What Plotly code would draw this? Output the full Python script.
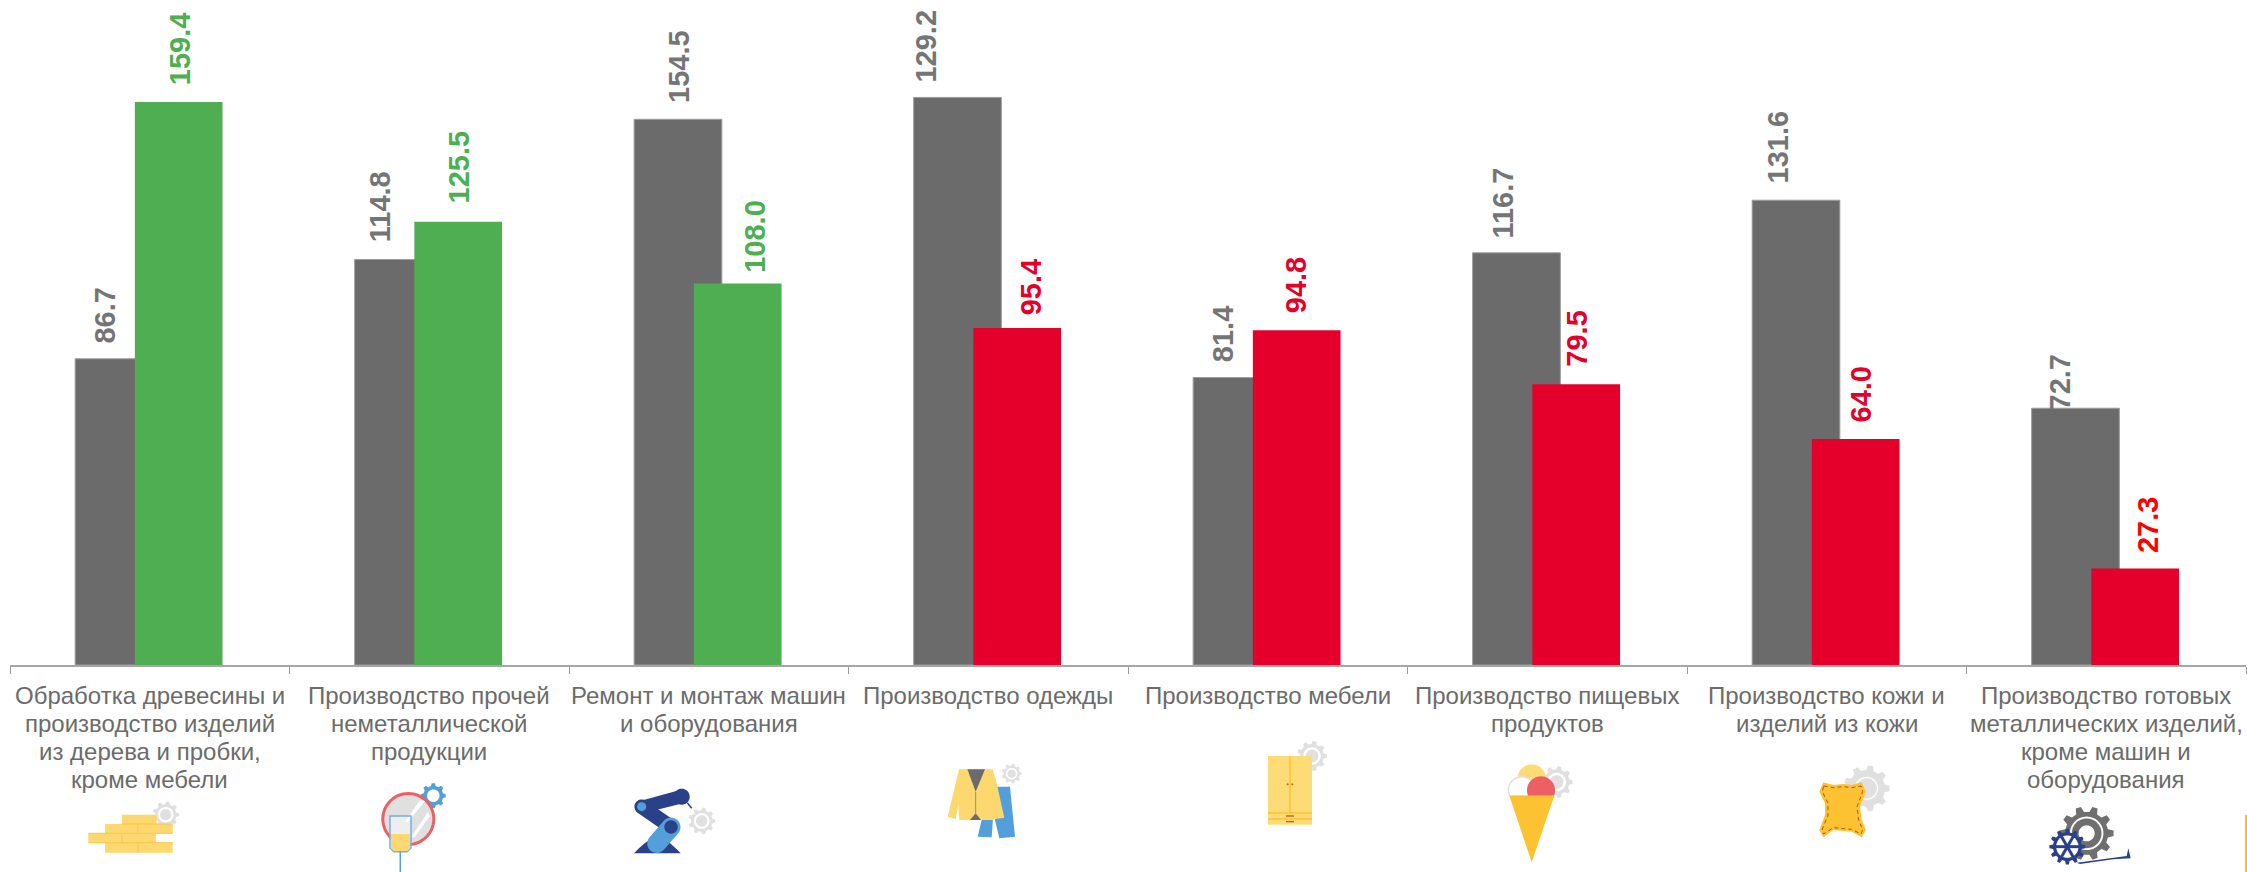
import math
import plotly.graph_objects as go

# ---------- data ----------
categories = [
    "Обработка древесины и<br>производство изделий<br>из дерева и пробки,<br>кроме мебели",
    "Производство прочей<br>неметаллической<br>продукции",
    "Ремонт и монтаж машин<br>и оборудования",
    "Производство одежды",
    "Производство мебели",
    "Производство пищевых<br>продуктов",
    "Производство кожи и<br>изделий из кожи",
    "Производство готовых<br>металлических изделий,<br>кроме машин и<br>оборудования",
]
prior_bars = [86.7, 114.8, 154.5, 160.7, 81.4, 116.7, 131.6, 72.7]
prior_labels = ["86.7", "114.8", "154.5", "129.2", "81.4", "116.7", "131.6", "72.7"]
current_bars = [159.4, 125.5, 108.0, 95.4, 94.8, 79.5, 64.0, 27.3]
current_labels = ["159.4", "125.5", "108.0", "95.4", "94.8", "79.5", "64.0", "27.3"]
current_colors = ["#4fae52"] * 3 + ["#e4002b"] * 5
current_label_colors = ["#4caf50"] * 3 + ["#e4002b"] * 4 + ["#ff0000"]

# label nudges, px from the category centre / above the bar top
prior_dx = [-45, -49, -30, -62, -44.5, -44, -49, -46]
prior_gap = [16, 18, 17.6, 15.6, 16.6, 15, 18, -1]
current_dx = [30, 30, 46, 43, 29, 29.5, 34.5, 42.5]
current_gap = [18, 19, 12, 14, 17.7, 18.3, 17.7, 16.3]

W, H = 2247, 872
AX_L, AX_R, BASE_Y = 10, 2246, 665
PX_PER_UNIT = 3.532
CAT_W = (AX_R - AX_L) / 8
GRAY, TXT_GRAY = "#6b6b6b", "#757575"
FONT = "Liberation Sans"

fig = go.Figure()
fig.add_bar(x=categories, y=prior_bars, width=87.7 / CAT_W, offset=-74.6 / CAT_W,
            marker=dict(color=GRAY, line=dict(color="#9c9c9c", width=1)), showlegend=False)
fig.add_bar(x=categories, y=current_bars, width=87.7 / CAT_W, offset=-14.9 / CAT_W,
            marker=dict(color=current_colors, line=dict(width=0)), showlegend=False)

annotations = []
def value_label(i, val, text, dx, gap, color):
    annotations.append(dict(x=i, y=val, xref="x", yref="y", text=text, showarrow=False, textangle=-90,
                            xanchor="center", yanchor="bottom", xshift=dx, yshift=gap - 3,
                            font=dict(family=FONT, size=29, color=color, weight=700)))

for i in range(8):
    value_label(i, prior_bars[i], prior_labels[i], prior_dx[i], prior_gap[i], TXT_GRAY)
    value_label(i, current_bars[i], current_labels[i], current_dx[i], current_gap[i], current_label_colors[i])

for i, cat in enumerate(categories):
    for j, line in enumerate(cat.split("<br>")):
        annotations.append(dict(x=i, y=1 - (695 + 28 * j) / H, xref="x", yref="paper", text=line,
                                showarrow=False, xanchor="center", yanchor="middle",
                                font=dict(family=FONT, size=24, color=GRAY)))

# ---------- decorative icons, pixel space ----------
shapes = []
def P(x, y):
    return f"{x / W:.6f},{1 - y / H:.6f}"
def poly(pts, fill, line=None, lw=0, closed=True, dash=None):
    d = "M" + " L".join(P(x, y) for x, y in pts) + (" Z" if closed else "")
    s = dict(type="path", xref="paper", yref="paper", path=d, layer="above",
             fillcolor=fill if closed else "rgba(0,0,0,0)",
             line=dict(width=lw, color=line or "rgba(0,0,0,0)", **({"dash": dash} if dash else {})))
    shapes.append(s)
def circ(cx, cy, r, fill, line=None, lw=0, clip=None):
    pts = [(cx + r * math.cos(a * math.pi / 30), cy + r * math.sin(a * math.pi / 30)) for a in range(60)]
    if clip is not None:
        pts = [(x, min(y, clip)) for x, y in pts]
    poly(pts, fill, line, lw)
def capsule(x0, y0, x1, y1, r, fill):
    a = math.atan2(y1 - y0, x1 - x0)
    pts = []
    for k in range(13):
        t = a + math.pi / 2 + k * math.pi / 12
        pts.append((x0 + r * math.cos(t), y0 + r * math.sin(t)))
    for k in range(13):
        t = a - math.pi / 2 + k * math.pi / 12
        pts.append((x1 + r * math.cos(t), y1 + r * math.sin(t)))
    poly(pts, fill)
def rect(x0, y0, x1, y1, fill):
    poly([(x0, y0), (x1, y0), (x1, y1), (x0, y1)], fill)
def gear(cx, cy, R, color="#e0e0e0", n=9, ring=0.58, hub=0.42, ring_col="#ffffff", hub_col=None):
    pts = []
    for k in range(n):
        base = 2 * math.pi * k / n
        step = 2 * math.pi / n
        for f, rr in ((-0.30, 0.8), (-0.16, 1.0), (0.16, 1.0), (0.30, 0.8)):
            pts.append((cx + R * rr * math.cos(base + f * step), cy + R * rr * math.sin(base + f * step)))
    poly(pts, color)
    circ(cx, cy, R * ring, ring_col)
    if hub > 0:
        circ(cx, cy, R * hub, hub_col or color)

YEL, YEL2, BLUE, NAVY, CORAL = "#fdd86f", "#fdc231", "#529fd9", "#2a4189", "#ec5f63"

# 1 wood
gear(165.7, 814.7, 13.3)
rect(122, 814.7, 156.7, 824, YEL); rect(105, 824, 172.7, 833.3, YEL)
rect(88.3, 833.3, 156, 842.7, YEL); rect(105, 842.7, 172.7, 852.7, YEL)
for y, a, b in ((824, 122, 172.7), (833.3, 88.3, 172.7), (842.7, 88.3, 172.7)):
    poly([(a, y), (b, y)], "", "#fbc64a", 1, closed=False)
for x, a, b in ((138, 824, 833.3), (122, 833.3, 842.7), (138, 842.7, 852.7)):
    poly([(x, a), (x, b)], "", "#fbc64a", 1, closed=False)

# 2 mirror and glass
gear(433.3, 795.7, 12.5, BLUE, n=8, ring=0.5, hub=0.0)
circ(408.3, 819, 25.5, "#e0e0e0", CORAL, 3)
poly([(420, 800), (405, 822), (408, 822), (425, 801)], "#ffffff")
poly([(428, 812), (412, 836), (414, 838), (430, 816)], "#ffffff")
poly([(390, 816), (411, 816), (411, 848), (407, 851.7), (394, 851.7), (390, 848)], "rgba(255,255,255,0.45)", "#74b0e0", 1.5)
poly([(391, 834), (410, 834), (410, 848), (407, 851), (394, 851), (391, 848)], YEL)
poly([(400.3, 851.7), (400.3, 872)], "", BLUE, 1.5, closed=False)

# 3 robot
gear(701.7, 821, 13.5)
poly([(687.3, 802.7), (691.7, 808.3)], "", NAVY, 1.5, closed=False)
poly([(640, 801), (680, 790), (684, 803), (648, 812)], NAVY)
circ(681.7, 796.7, 8, NAVY)
pts = [(634 + 46.7 * k / 24, 853.3 - 15.3 * math.sin(math.pi * k / 24)) for k in range(25)]
poly(pts, NAVY)
capsule(641.7, 806.7, 671, 827, 7.3, NAVY)
circ(641.7, 806.7, 4.5, BLUE)
capsule(656.7, 843.5, 671, 827, 9.5, BLUE)
circ(671, 827, 6.7, NAVY)

# 4 suit
def suit(x, y):
    return (x / 3 + 610, y / 3 + 750)
gear(*suit(1205, 71), 10)
poly([suit(*p) for p in [(1162, 110), (1200, 110), (1215, 260), (1168, 265), (1150, 190), (1145, 262), (1103, 260), (1120, 190)]], BLUE)
poly([suit(*p) for p in [(1047, 58), (1148, 58), (1160, 100), (1183, 203), (1152, 208), (1150, 210), (1048, 210), (1045, 165), (1037, 207), (1013, 200)]], YEL)
poly([suit(*p) for p in [(1072, 58), (1125, 58), (1097, 125)]], GRAY)
poly([suit(*p) for p in [(1080, 210), (1097, 190), (1113, 210)]], GRAY)
poly([suit(1097, 125), suit(1097, 190)], "", "#a58f5a", 1, closed=False)

# 5 wardrobe
gear(1312, 756, 15)
rect(1268, 756, 1312, 824.7, "#fddc77")
poly([(1290, 756), (1290, 813)], "", YEL2, 1.5, closed=False)
poly([(1268, 813), (1312, 813)], "", YEL2, 1.5, closed=False)
poly([(1268, 819), (1312, 819)], "", YEL2, 1.5, closed=False)
circ(1287.7, 784.3, 1, "#b5651d"); circ(1292.3, 784.3, 1, "#b5651d")
rect(1286, 815.3, 1294, 816.7, "#b5651d"); rect(1286, 821, 1294, 822.3, "#b5651d")

# 6 ice cream
gear(1556.7, 782, 16)
circ(1531.7, 778.3, 14, "#fddc77", clip=795.7)
circ(1521.7, 790, 13.3, "#ffffff", "#e0e0e0", 1.5, clip=795.7)
circ(1541, 790.3, 14, CORAL, clip=795.7)
poly([(1509.3, 795.7), (1554.3, 795.7), (1531.7, 862.3)], YEL2)

# 7 leather
def lea(x, y):
    return (x / 3 + 1780, y / 3 + 750)
gear(*lea(260, 115), 23, ring=0.5, hub=0.44)
hide = [(130, 97), (160, 105), (190, 102), (215, 105), (245, 97), (258, 125), (240, 170), (245, 210), (258, 240), (245, 262), (215, 245), (160, 240), (130, 262), (118, 240), (135, 195), (135, 160), (118, 125)]
poly([lea(*p) for p in hide], YEL2)
seam = [(131, 108), (160, 113), (190, 110), (215, 113), (243, 108), (248, 125), (231, 170), (236, 210), (248, 240), (243, 252), (215, 238), (160, 233), (131, 252), (126, 240), (144, 195), (144, 160), (127, 125), (131, 108)]
poly([lea(*p) for p in seam], "", "#a8571c", 1, closed=False, dash="4px,3px")

# 8 gears
def grs(x, y):
    return (x / 3 + 1780, y / 3 + 750)
gear(*grs(920, 250), 27, color="#6f6f6f", n=10, ring=0.62, hub=0.55, hub_col="#6f6f6f")
circ(*grs(920, 250), 8, "#ffffff")
poly([grs(*p) for p in [(890, 338), (1040, 318), (1045, 295), (1052, 325), (1000, 328), (900, 342)]], NAVY)
c = grs(862, 290)
gear(c[0], c[1], 18, color=NAVY, n=12, ring=0.62, hub=0.0, ring_col="#ffffff")
for k in range(3):
    a = k * math.pi / 3
    poly([(c[0] + 13 * math.cos(a), c[1] + 13 * math.sin(a)), (c[0] - 13 * math.cos(a), c[1] - 13 * math.sin(a))], "", NAVY, 3, closed=False)

# stray strip at the right edge
rect(2245, 815, 2247, 872, "#fdb92e")

fig.update_layout(
    width=W, height=H, margin=dict(l=0, r=0, t=0, b=0, autoexpand=False),
    barmode="overlay", paper_bgcolor="white", plot_bgcolor="white", showlegend=False,
    annotations=annotations, shapes=shapes,
    xaxis=dict(type="category", domain=[AX_L / W, AX_R / W], range=[-0.5, 7.5], tickson="boundaries",
               ticks="outside", ticklen=7, tickwidth=1, tickcolor="#9a9a9a", showticklabels=False,
               showline=True, linecolor="#a6a6a6", linewidth=2, showgrid=False, zeroline=False),
    yaxis=dict(domain=[1 - BASE_Y / H, 1], range=[0, BASE_Y / PX_PER_UNIT], visible=False),
)
fig.write_html("out.html", config=dict(displayModeBar=False), post_script="document.body.style.margin='0';")
